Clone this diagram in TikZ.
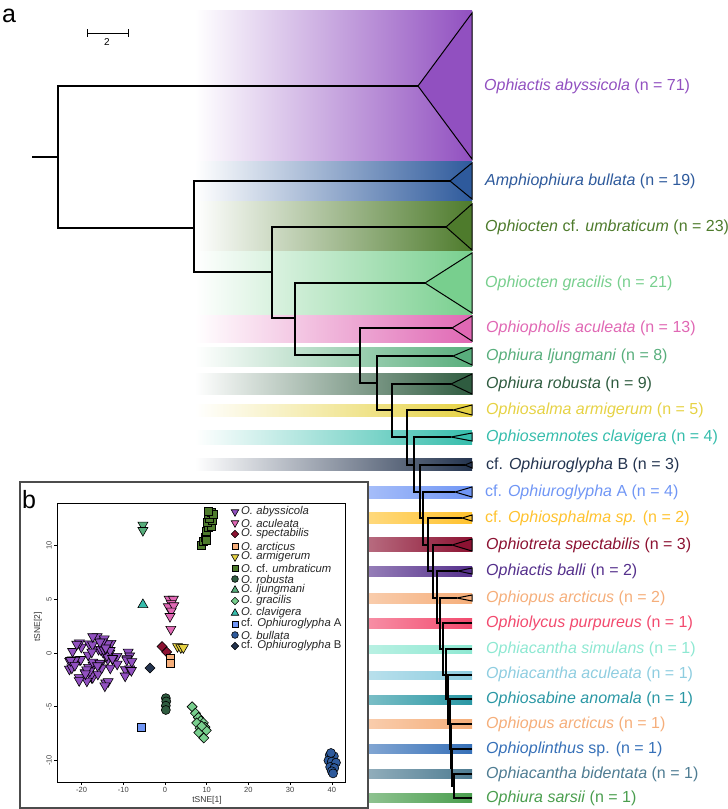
\documentclass[tikz,border=0pt]{standalone}
\usepackage{fontspec}
\setmainfont{Liberation Sans}

\definecolor{cAby}{HTML}{9150C0}
\definecolor{cBul}{HTML}{2E5A9C}
\definecolor{cUmb}{HTML}{4E7B2C}
\definecolor{cGra}{HTML}{78CF8E}
\definecolor{cAcu}{HTML}{E068B4}
\definecolor{cLju}{HTML}{58AE7C}
\definecolor{cRob}{HTML}{2F5C40}
\definecolor{cArm}{HTML}{E6D244}
\definecolor{cCla}{HTML}{36BDAC}
\definecolor{cGlyB}{HTML}{24344F}
\definecolor{cGlyA}{HTML}{7096F5}
\definecolor{cSph}{HTML}{FFC22E}
\definecolor{cSpe}{HTML}{8C1232}
\definecolor{cBal}{HTML}{55308C}
\definecolor{cArc}{HTML}{F5AE7A}
\definecolor{cPur}{HTML}{F24A6E}
\definecolor{cSim}{HTML}{8EE8D2}
\definecolor{cOac}{HTML}{8ECDE0}
\definecolor{cAno}{HTML}{2A97A4}
\definecolor{cPli}{HTML}{3670B8}
\definecolor{cBid}{HTML}{4E7C92}
\definecolor{cSar}{HTML}{4A9E4E}

\tikzset{
  branch/.style={draw=black, line width=1.1pt},
  clade/.style={draw=black, line width=1pt},
  taxon/.style={anchor=west, inner sep=0pt, font=\fontsize{16}{19}\selectfont},
  legtext/.style={anchor=west, inner sep=0pt, text=black!85, font=\fontsize{11.3}{13}\selectfont\itshape},
  ticklbl/.style={inner sep=0pt, text=black!75, font=\fontsize{7.5}{8}\selectfont},
  dtri/.pic={\filldraw[fill=#1, draw=black, line width=0.6pt] (-5pt,3pt) -- (5pt,3pt) -- (0pt,-5.7pt) -- cycle;},
  utri/.pic={\filldraw[fill=#1, draw=black, line width=0.6pt] (-5pt,-3pt) -- (5pt,-3pt) -- (0pt,5.7pt) -- cycle;},
  sqr/.pic={\filldraw[fill=#1, draw=black, line width=0.6pt] (-4pt,-4pt) rectangle (4pt,4pt);},
  dmd/.pic={\filldraw[fill=#1, draw=black, line width=0.6pt] (-5pt,0pt) -- (0pt,5pt) -- (5pt,0pt) -- (0pt,-5pt) -- cycle;},
  dot/.pic={\filldraw[fill=#1, draw=black, line width=0.6pt] (0pt,0pt) circle (4.5pt);},
}

\begin{document}
\begin{tikzpicture}[x=1pt, y=-1pt]
\useasboundingbox (0,0) rectangle (728,809);

% Panel letter and scale bar
\node[anchor=base west, inner sep=0pt, font=\fontsize{25}{25}\selectfont] (lblA) at (2,22) {a};
\draw[line width=1pt] (87,33) -- (128,33);
\draw[line width=1pt] (87,29) -- (87,37);
\draw[line width=1pt] (128,29) -- (128,37);
\node[inner sep=0pt, font=\fontsize{10}{10}\selectfont] (scaleLbl) at (107,42) {2};

% Bands
\shade[left color=white, right color=cAby] (195,10) rectangle (472,161);
\shade[left color=white, right color=cBul] (195,161) rectangle (472,201);
\shade[left color=white, right color=cUmb] (195,201) rectangle (472,251);
\shade[left color=white, right color=cGra] (195,251) rectangle (472,314);
\shade[left color=white, right color=cAcu] (195,315) rectangle (472,342);
\shade[left color=white, right color=cLju] (195,347) rectangle (472,366);
\shade[left color=white, right color=cRob] (195,373) rectangle (472,394);
\shade[left color=white, right color=cArm] (195,404) rectangle (472,416);
\shade[left color=white, right color=cCla] (195,430) rectangle (472,444);
\shade[left color=white, right color=cGlyB] (195,458) rectangle (472,470);
\shade[left color=white, right color=cGlyA] (195,486) rectangle (472,498);
\shade[left color=white, right color=cSph] (195,512) rectangle (472,523);
\shade[left color=white, right color=cSpe] (195,537) rectangle (472,551);
\shade[left color=white, right color=cBal] (195,566) rectangle (472,576);
\shade[left color=white, right color=cArc] (195,593) rectangle (472,603);
\shade[left color=white, right color=cPur] (195,618) rectangle (472,628);
\shade[left color=white, right color=cSim] (195,645) rectangle (472,653);
\shade[left color=white, right color=cOac] (195,671) rectangle (472,679);
\shade[left color=white, right color=cAno] (195,695) rectangle (472,704);
\shade[left color=white, right color=cArc] (195,719) rectangle (472,728);
\shade[left color=white, right color=cPli] (195,744) rectangle (472,753);
\shade[left color=white, right color=cBid] (195,769) rectangle (472,778);
\shade[left color=white, right color=cSar] (195,793) rectangle (472,802);

% Tree nodes
\coordinate (root) at (32,157);
\coordinate (n1) at (58,157);
\coordinate (n2) at (194,228);
\coordinate (n3) at (272,272);
\coordinate (n4) at (295,318);
\coordinate (n5) at (360,355);
\coordinate (n6) at (377,383);
\coordinate (n7) at (392,410);
\coordinate (n8) at (407,437);
\coordinate (n9) at (414,465);
\coordinate (n10) at (420,492);
\coordinate (n11) at (423,518);
\coordinate (n12) at (428,545);
\coordinate (n13) at (433,571);
\coordinate (n14) at (437,598);
\coordinate (n15) at (440,623);
\coordinate (n16) at (443,649);
\coordinate (n17) at (446,675);
\coordinate (n18) at (448,699);
\coordinate (n19) at (450,724);
\coordinate (n20) at (451,749);
\coordinate (n21) at (452,768);
\coordinate (n22) at (454,786);

% Tips
\coordinate (aby) at (418,86);
\coordinate (bul) at (450,181);
\coordinate (umb) at (446,227);
\coordinate (gra) at (425,283);
\coordinate (acu) at (452,328);
\coordinate (lju) at (453,356);
\coordinate (rob) at (451,384);
\coordinate (arm) at (453,410);
\coordinate (cla) at (451,437);
\coordinate (glyB) at (465,465);
\coordinate (glyA) at (455,492);
\coordinate (sph) at (462,518);
\coordinate (spe) at (452,545);
\coordinate (bal) at (458,571);
\coordinate (arc2) at (457,598);
\coordinate (pur) at (472,623);
\coordinate (sim) at (472,649);
\coordinate (oac) at (472,675);
\coordinate (ano) at (472,699);
\coordinate (arc1) at (472,724);
\coordinate (pli) at (472,749);
\coordinate (bid) at (472,774);
\coordinate (sar) at (472,798);

% Branches
\draw[branch] (root) -- (n1);
\foreach \u/\n/\l in {aby/n1/n2, bul/n2/n3, umb/n3/n4, gra/n4/n5, acu/n5/n6,
    lju/n6/n7, rob/n7/n8, arm/n8/n9, cla/n9/n10, glyB/n10/n11, glyA/n11/n12,
    sph/n12/n13, spe/n13/n14, bal/n14/n15, arc2/n15/n16, pur/n16/n17,
    sim/n17/n18, oac/n18/n19, ano/n19/n20, arc1/n20/n21, pli/n21/n22, bid/n22/sar}
  \draw[branch] (\u) -| (\n) |- (\l);

% Collapsed clades
\filldraw[clade, fill=cAby] (aby) -- (472,13) -- (472,159) -- cycle;
\filldraw[clade, fill=cBul] (bul) -- (472,163) -- (472,199) -- cycle;
\filldraw[clade, fill=cUmb] (umb) -- (472,204) -- (472,250) -- cycle;
\filldraw[clade, fill=cGra] (gra) -- (472,253) -- (472,313) -- cycle;
\filldraw[clade, fill=cAcu] (acu) -- (472,316) -- (472,341) -- cycle;
\filldraw[clade, fill=cLju] (lju) -- (472,348) -- (472,365) -- cycle;
\filldraw[clade, fill=cRob] (rob) -- (472,374) -- (472,394) -- cycle;
\filldraw[clade, fill=cArm] (arm) -- (472,405) -- (472,415) -- cycle;
\filldraw[clade, fill=cCla] (cla) -- (472,433) -- (472,441) -- cycle;
\filldraw[clade, fill=cGlyB] (glyB) -- (472,462) -- (472,468) -- cycle;
\filldraw[clade, fill=cGlyA] (glyA) -- (472,487) -- (472,497) -- cycle;
\filldraw[clade, fill=cSph] (sph) -- (472,515) -- (472,521) -- cycle;
\filldraw[clade, fill=cSpe] (spe) -- (472,539) -- (472,551) -- cycle;
\filldraw[clade, fill=cBal] (bal) -- (472,568) -- (472,574) -- cycle;
\filldraw[clade, fill=cArc] (arc2) -- (472,595) -- (472,601) -- cycle;

% Taxon labels
\node[taxon, text=cAby] (tAby) at (484,86) {\textit{Ophiactis abyssicola} (n = 71)};
\node[taxon, text=cBul] (tBul) at (485,181) {\textit{Amphiophiura bullata} (n = 19)};
\node[taxon, text=cUmb] (tUmb) at (485,227) {\textit{Ophiocten} cf. \textit{umbraticum} (n = 23)};
\node[taxon, text=cGra] (tGra) at (485,283) {\textit{Ophiocten gracilis} (n = 21)};
\node[taxon, text=cAcu] (tAcu) at (486,328) {\textit{Ophiopholis aculeata} (n = 13)};
\node[taxon, text=cLju] (tLju) at (486,356) {\textit{Ophiura ljungmani} (n = 8)};
\node[taxon, text=cRob] (tRob) at (486,384) {\textit{Ophiura robusta} (n = 9)};
\node[taxon, text=cArm] (tArm) at (486,410) {\textit{Ophiosalma armigerum} (n = 5)};
\node[taxon, text=cCla] (tCla) at (486,437) {\textit{Ophiosemnotes clavigera} (n = 4)};
\node[taxon, text=cGlyB] (tGlyB) at (486,465) {cf. \textit{Ophiuroglypha} B (n = 3)};
\node[taxon, text=cGlyA] (tGlyA) at (485,492) {cf. \textit{Ophiuroglypha} A (n = 4)};
\node[taxon, text=cSph] (tSph) at (485,518) {cf. \textit{Ophiosphalma sp.} (n = 2)};
\node[taxon, text=cSpe] (tSpe) at (486,545) {\textit{Ophiotreta spectabilis} (n = 3)};
\node[taxon, text=cBal] (tBal) at (486,571) {\textit{Ophiactis balli} (n = 2)};
\node[taxon, text=cArc] (tArc2) at (486,598) {\textit{Ophiopus arcticus} (n = 2)};
\node[taxon, text=cPur] (tPur) at (486,623) {\textit{Ophiolycus purpureus} (n = 1)};
\node[taxon, text=cSim] (tSim) at (486,649) {\textit{Ophiacantha simulans} (n = 1)};
\node[taxon, text=cOac] (tOac) at (486,674) {\textit{Ophiacantha aculeata} (n = 1)};
\node[taxon, text=cAno] (tAno) at (486,699) {\textit{Ophiosabine anomala} (n = 1)};
\node[taxon, text=cArc] (tArc1) at (486,724) {\textit{Ophiopus arcticus} (n = 1)};
\node[taxon, text=cPli] (tPli) at (486,749) {\textit{Ophioplinthus} sp. (n = 1)};
\node[taxon, text=cBid] (tBid) at (486,774) {\textit{Ophiacantha bidentata} (n = 1)};
\node[taxon, text=cSar] (tSar) at (486,798) {\textit{Ophiura sarsii} (n = 1)};

% Inset b
\draw[line width=1.2pt, draw=black!70, fill=white] (20,482) rectangle (368,808);
\node[anchor=base west, inner sep=0pt, font=\fontsize{25}{25}\selectfont] (lblB) at (22,508) {b};
\draw[line width=0.8pt] (57,503) rectangle (345,782);

% Axes
\foreach \v [count=\i] in {-20,-10,0,10,20,30,40} {
  \draw[line width=0.6pt] ({165+4.17*\v},782) -- ({165+4.17*\v},785);
  \node[ticklbl] (xt\i) at ({165+4.17*\v},790) {\v};
}
\foreach \v [count=\i] in {-10,-5,0,5,10} {
  \draw[line width=0.6pt] (57,{653-10.75*\v}) -- (54,{653-10.75*\v});
  \node[ticklbl, rotate=90] (yt\i) at (49,{653-10.75*\v}) {\v};
}
\node[inner sep=0pt, text=black!80, font=\fontsize{8.5}{9}\selectfont] (xlab) at (207,800) {tSNE[1]};
\node[inner sep=0pt, text=black!80, rotate=90, font=\fontsize{8.5}{9}\selectfont] (ylab) at (38,627) {tSNE[2]};

% Points
\begin{scope}[shift={(165,653)}, x=4.17pt, y=10.75pt]
  \pgfmathsetseed{11}
  \foreach \k in {1,...,70} {
    \pgfmathsetmacro\rr{sqrt(rnd)}
    \pgfmathsetmacro\aa{360*rnd}
    \pic at ({-15.8+8.2*\rr*cos(\aa)},{-0.9+2.5*\rr*sin(\aa)}) {dtri=cAby};
  }
  \foreach \px/\py in {8.8/10.0, 9.2/10.4, 9.6/10.8, 10.0/10.5, 9.9/11.3, 10.3/11.7,
      11.0/11.8, 10.1/12.2, 11.4/12.3, 10.7/12.5, 10.5/12.9, 11.1/13.1, 11.7/12.9, 10.4/13.2}
    \pic at (\px,\py) {sqr=cUmb};
  \foreach \px/\py in {1.0/5.0, 2.0/5.0, 1.5/4.6, 0.8/4.3, 2.1/4.4, 1.5/3.9, 1.2/3.4, 1.4/2.2}
    \pic at (\px,\py) {dtri=cAcu};
  \foreach \px/\py in {-5.3/11.9, -5.3/11.4}
    \pic at (\px,\py) {dtri=cLju};
  \pic at (-5.3,4.5) {utri=cCla};
  \foreach \px/\py in {3.0/0.6, 3.8/0.5, 4.4/0.5}
    \pic at (\px,\py) {dtri=cArm};
  \foreach \px/\py in {-0.7/0.6, 0.4/0.1}
    \pic at (\px,\py) {dmd=cSpe};
  \foreach \px/\py in {1.2/-0.5, 1.2/-1.0}
    \pic at (\px,\py) {sqr=cArc};
  \pic at (-3.6,-1.4) {dmd=cGlyB};
  \foreach \px/\py in {0.2/-4.2, 0.3/-4.5, 0.2/-4.9, 0.2/-5.3}
    \pic at (\px,\py) {dot=cRob};
  \foreach \px/\py in {6.5/-5.0, 7.3/-5.6, 8.0/-6.0, 8.6/-6.3, 9.2/-6.5, 9.6/-6.9,
      7.6/-6.5, 8.4/-7.0, 9.0/-7.4, 9.3/-7.9, 8.1/-7.4, 9.9/-7.2, 8.8/-6.8}
    \pic at (\px,\py) {dmd=cGra};
  \pic at (-5.6,-6.95) {sqr=cGlyA};
  \foreach \px/\py in {39.5/-9.5, 40.5/-9.6, 39.2/-10.0, 40.0/-10.1, 41.0/-10.2,
      39.6/-10.6, 40.6/-10.7, 40.0/-11.0, 40.3/-11.2, 39.8/-9.3}
    \pic at (\px,\py) {dot=cBul};
\end{scope}

% Legend
\pic[scale=0.75] at (235,512) {dtri=cAby};
\pic[scale=0.75] at (235,523) {dtri=cAcu};
\pic[scale=0.75] at (235,534) {dmd=cSpe};
\pic[scale=0.75] at (235,546) {sqr=cArc};
\pic[scale=0.75] at (235,557) {dtri=cArm};
\pic[scale=0.75] at (235,568) {sqr=cUmb};
\pic[scale=0.75] at (235,579) {dot=cRob};
\pic[scale=0.75] at (235,590) {utri=cLju};
\pic[scale=0.75] at (235,601) {dmd=cGra};
\pic[scale=0.75] at (235,613) {utri=cCla};
\pic[scale=0.75] at (235,624) {sqr=cGlyA};
\pic[scale=0.75] at (235,635) {dot=cBul};
\pic[scale=0.75] at (235,646) {dmd=cGlyB};
\node[legtext] (lgAby) at (241,512) {O. abyssicola};
\node[legtext] (lgAcu) at (241,523) {O. aculeata};
\node[legtext] (lgSpe) at (241,534) {O. spectabilis};
\node[legtext] (lgArc) at (241,546) {O. arcticus};
\node[legtext] (lgArm) at (241,557) {O. armigerum};
\node[legtext] (lgUmb) at (241,568) {O. \textup{cf.} umbraticum};
\node[legtext] (lgRob) at (241,579) {O. robusta};
\node[legtext] (lgLju) at (241,590) {O. ljungmani};
\node[legtext] (lgGra) at (241,601) {O. gracilis};
\node[legtext] (lgCla) at (241,613) {O. clavigera};
\node[legtext] (lgGlyA) at (241,624) {\textup{cf.} Ophiuroglypha \textup{A}};
\node[legtext] (lgBul) at (241,635) {O. bullata};
\node[legtext] (lgGlyB) at (241,646) {\textup{cf.} Ophiuroglypha \textup{B}};
\end{tikzpicture}
\end{document}
